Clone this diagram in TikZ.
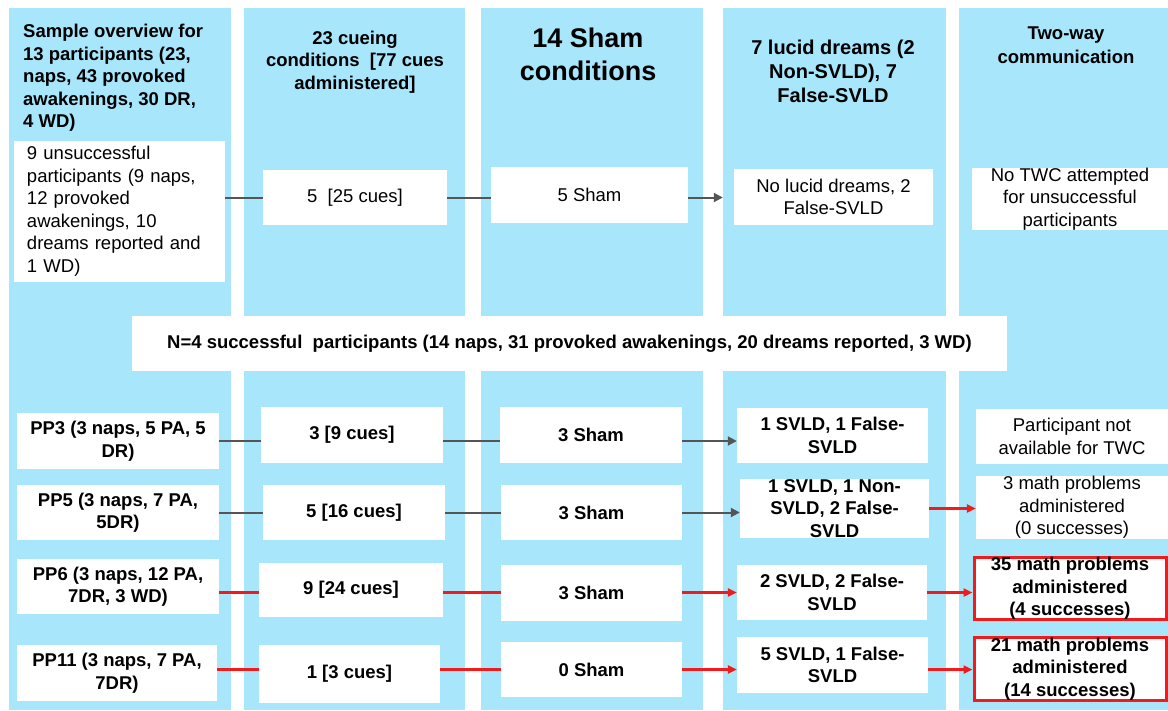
\documentclass[tikz,border=0pt]{standalone}
\usepackage{fontspec}
\setmainfont{Liberation Sans}
\usepackage{tikz}
\usetikzlibrary{arrows.meta}
\definecolor{colblue}{HTML}{A7E6FB}
\definecolor{linegray}{HTML}{555555}
\definecolor{boxred}{HTML}{F21B1B}
\newcommand{\psz}{\fontsize{18.5}{22.5}\selectfont}
\newcommand{\pcol}[2]{\fill[colblue] (#1,8) rectangle (#2,710);}
\newcommand{\pcell}[7]{\node[#1,minimum width=#5pt,minimum height=#6pt] (#2) at (#3,#4) {#7};}
\newcommand{\plink}[4]{\draw[#1] (#2.east |- #4) -- (#3.west |- #4);}
\tikzset{
  pbox/.style={fill=white,inner sep=0pt,align=center,font=\psz},
  pboldbox/.style={pbox,font=\psz\bfseries},
  predbox/.style={pboldbox,draw=boxred,line width=3pt},
  phead/.style={inner sep=0pt,align=center,font=\psz\bfseries},
  glink/.style={draw=linegray,line width=2pt},
  garrow/.style={glink,-{Triangle[length=9pt,width=9pt]}},
  rlink/.style={draw=boxred,line width=3pt},
  rarrow/.style={rlink,-{Triangle[length=9pt,width=8pt]}}
}

\begin{document}
\begin{tikzpicture}[x=1pt,y=-1pt]
  \useasboundingbox (0,0) rectangle (1168,710);
  \fill[white] (0,0) rectangle (1168,710);
  \pcol{9}{231} \pcol{244}{465} \pcol{481}{703} \pcol{723}{946} \pcol{959}{1168}
  \node[phead,align=left,anchor=west] (h1) at (23,78) {Sample overview for\\13 participants (23,\\naps, 43 provoked\\awakenings, 30 DR,\\4 WD)};
  \node[phead] (h2) at (355,62) {23 cueing\\conditions\ \ [77 cues\\administered]};
  \node[phead,font=\fontsize{27}{33}\selectfont\bfseries] (h3) at (588,54) {14 Sham\\conditions};
  \node[phead,font=\fontsize{20}{24}\selectfont\bfseries] (h4) at (833,71) {7 lucid dreams (2\\Non-SVLD), 7\\False-SVLD};
  \node[phead,font=\fontsize{18.5}{23.5}\selectfont\bfseries] (h5) at (1066,45) {Two-way\\communication};
  \pcell{pbox,align=left,text width=185pt,inner xsep=13pt}{uns}{119.5}{211}{211}{141}{9 unsuccessful\\participants (9 naps,\\12 provoked\\awakenings, 10\\dreams reported and\\1 WD)}
  \pcell{pbox}{cue0}{355}{197.5}{184}{55}{5\ \ [25 cues]}
  \pcell{pbox}{sham0}{589.5}{195}{197}{56}{5 Sham}
  \pcell{pbox}{luc0}{833.5}{197}{199}{56}{No lucid dreams, 2\\False-SVLD}
  \pcell{pbox}{twc0}{1070}{199}{196}{56}{No TWC attempted\\for unsuccessful\\participants}
  \pcell{pboldbox}{succ}{569.5}{343.5}{875}{55}{N=4 successful\ \ participants (14 naps, 31 provoked awakenings, 20 dreams reported, 3 WD)}
  \pcell{pboldbox}{pp3}{118}{441}{202}{56}{PP3 (3 naps, 5 PA, 5\\DR)}
  \pcell{pboldbox}{cue1}{352}{435}{182}{56}{3 [9 cues]}
  \pcell{pboldbox}{sham1}{591}{435}{182}{56}{3 Sham}
  \pcell{pboldbox}{luc1}{832.5}{435.5}{191}{55}{1 SVLD, 1 False-\\SVLD}
  \pcell{pbox}{twc1}{1072}{436.5}{192}{55}{Participant not\\available for TWC}
  \pcell{pboldbox}{pp5}{118}{512.5}{202}{55}{PP5 (3 naps, 7 PA,\\5DR)}
  \pcell{pboldbox}{cue2}{354}{512.5}{182}{55}{5 [16 cues]}
  \pcell{pboldbox}{sham2}{591.5}{512.5}{181}{55}{3 Sham}
  \pcell{pboldbox}{luc2}{834.5}{508.5}{189}{57}{1 SVLD, 1 Non-\\SVLD, 2 False-\\SVLD}
  \pcell{pbox}{twc2}{1072}{507.5}{192}{55}{3 math problems\\administered\\(0 successes)}
  \pcell{pboldbox}{pp6}{118}{586.5}{202}{55}{PP6 (3 naps, 12 PA,\\7DR, 3 WD)}
  \pcell{pboldbox}{cue3}{351}{590}{184}{54}{9 [24 cues]}
  \pcell{pboldbox}{sham3}{591.5}{593}{181}{56}{3 Sham}
  \pcell{pboldbox}{luc3}{832}{592.5}{190}{55}{2 SVLD, 2 False-\\SVLD}
  \pcell{predbox}{twc3}{1070}{588.5}{192}{61}{35 math problems\\administered\\(4 successes)}
  \pcell{pboldbox}{pp11}{117}{673}{200}{56}{PP11 (3 naps, 7 PA,\\7DR)}
  \pcell{pboldbox}{cue4}{349.5}{674}{181}{58}{1 [3 cues]}
  \pcell{pboldbox}{sham4}{591.5}{669.5}{181}{55}{0 Sham}
  \pcell{pboldbox}{luc4}{832.5}{665}{191}{56}{5 SVLD, 1 False-\\SVLD}
  \pcell{predbox}{twc4}{1070}{669}{192}{60}{21 math problems\\administered\\(14 successes)}
  \plink{glink}{uns}{cue0}{cue0} \plink{glink}{cue0}{sham0}{cue0} \plink{garrow,shorten >=11pt}{sham0}{luc0}{cue0}
  \plink{glink}{pp3}{cue1}{pp3} \plink{glink}{cue1}{sham1}{pp3} \plink{garrow}{sham1}{luc1}{pp3}
  \plink{glink}{pp5}{cue2}{pp5} \plink{glink}{cue2}{sham2}{pp5} \plink{garrow}{sham2}{luc2}{pp5}
  \plink{rarrow}{luc2}{twc2}{luc2}
  \plink{rlink}{pp6}{cue3}{luc3} \plink{rlink}{cue3}{sham3}{luc3} \plink{rarrow}{sham3}{luc3}{luc3}
  \plink{rarrow}{luc3}{twc3}{luc3}
  \plink{rlink}{pp11}{cue4}{sham4} \plink{rlink}{cue4}{sham4}{sham4} \plink{rarrow}{sham4}{luc4}{sham4}
  \plink{rarrow}{luc4}{twc4}{sham4}
\end{tikzpicture}
\end{document}
